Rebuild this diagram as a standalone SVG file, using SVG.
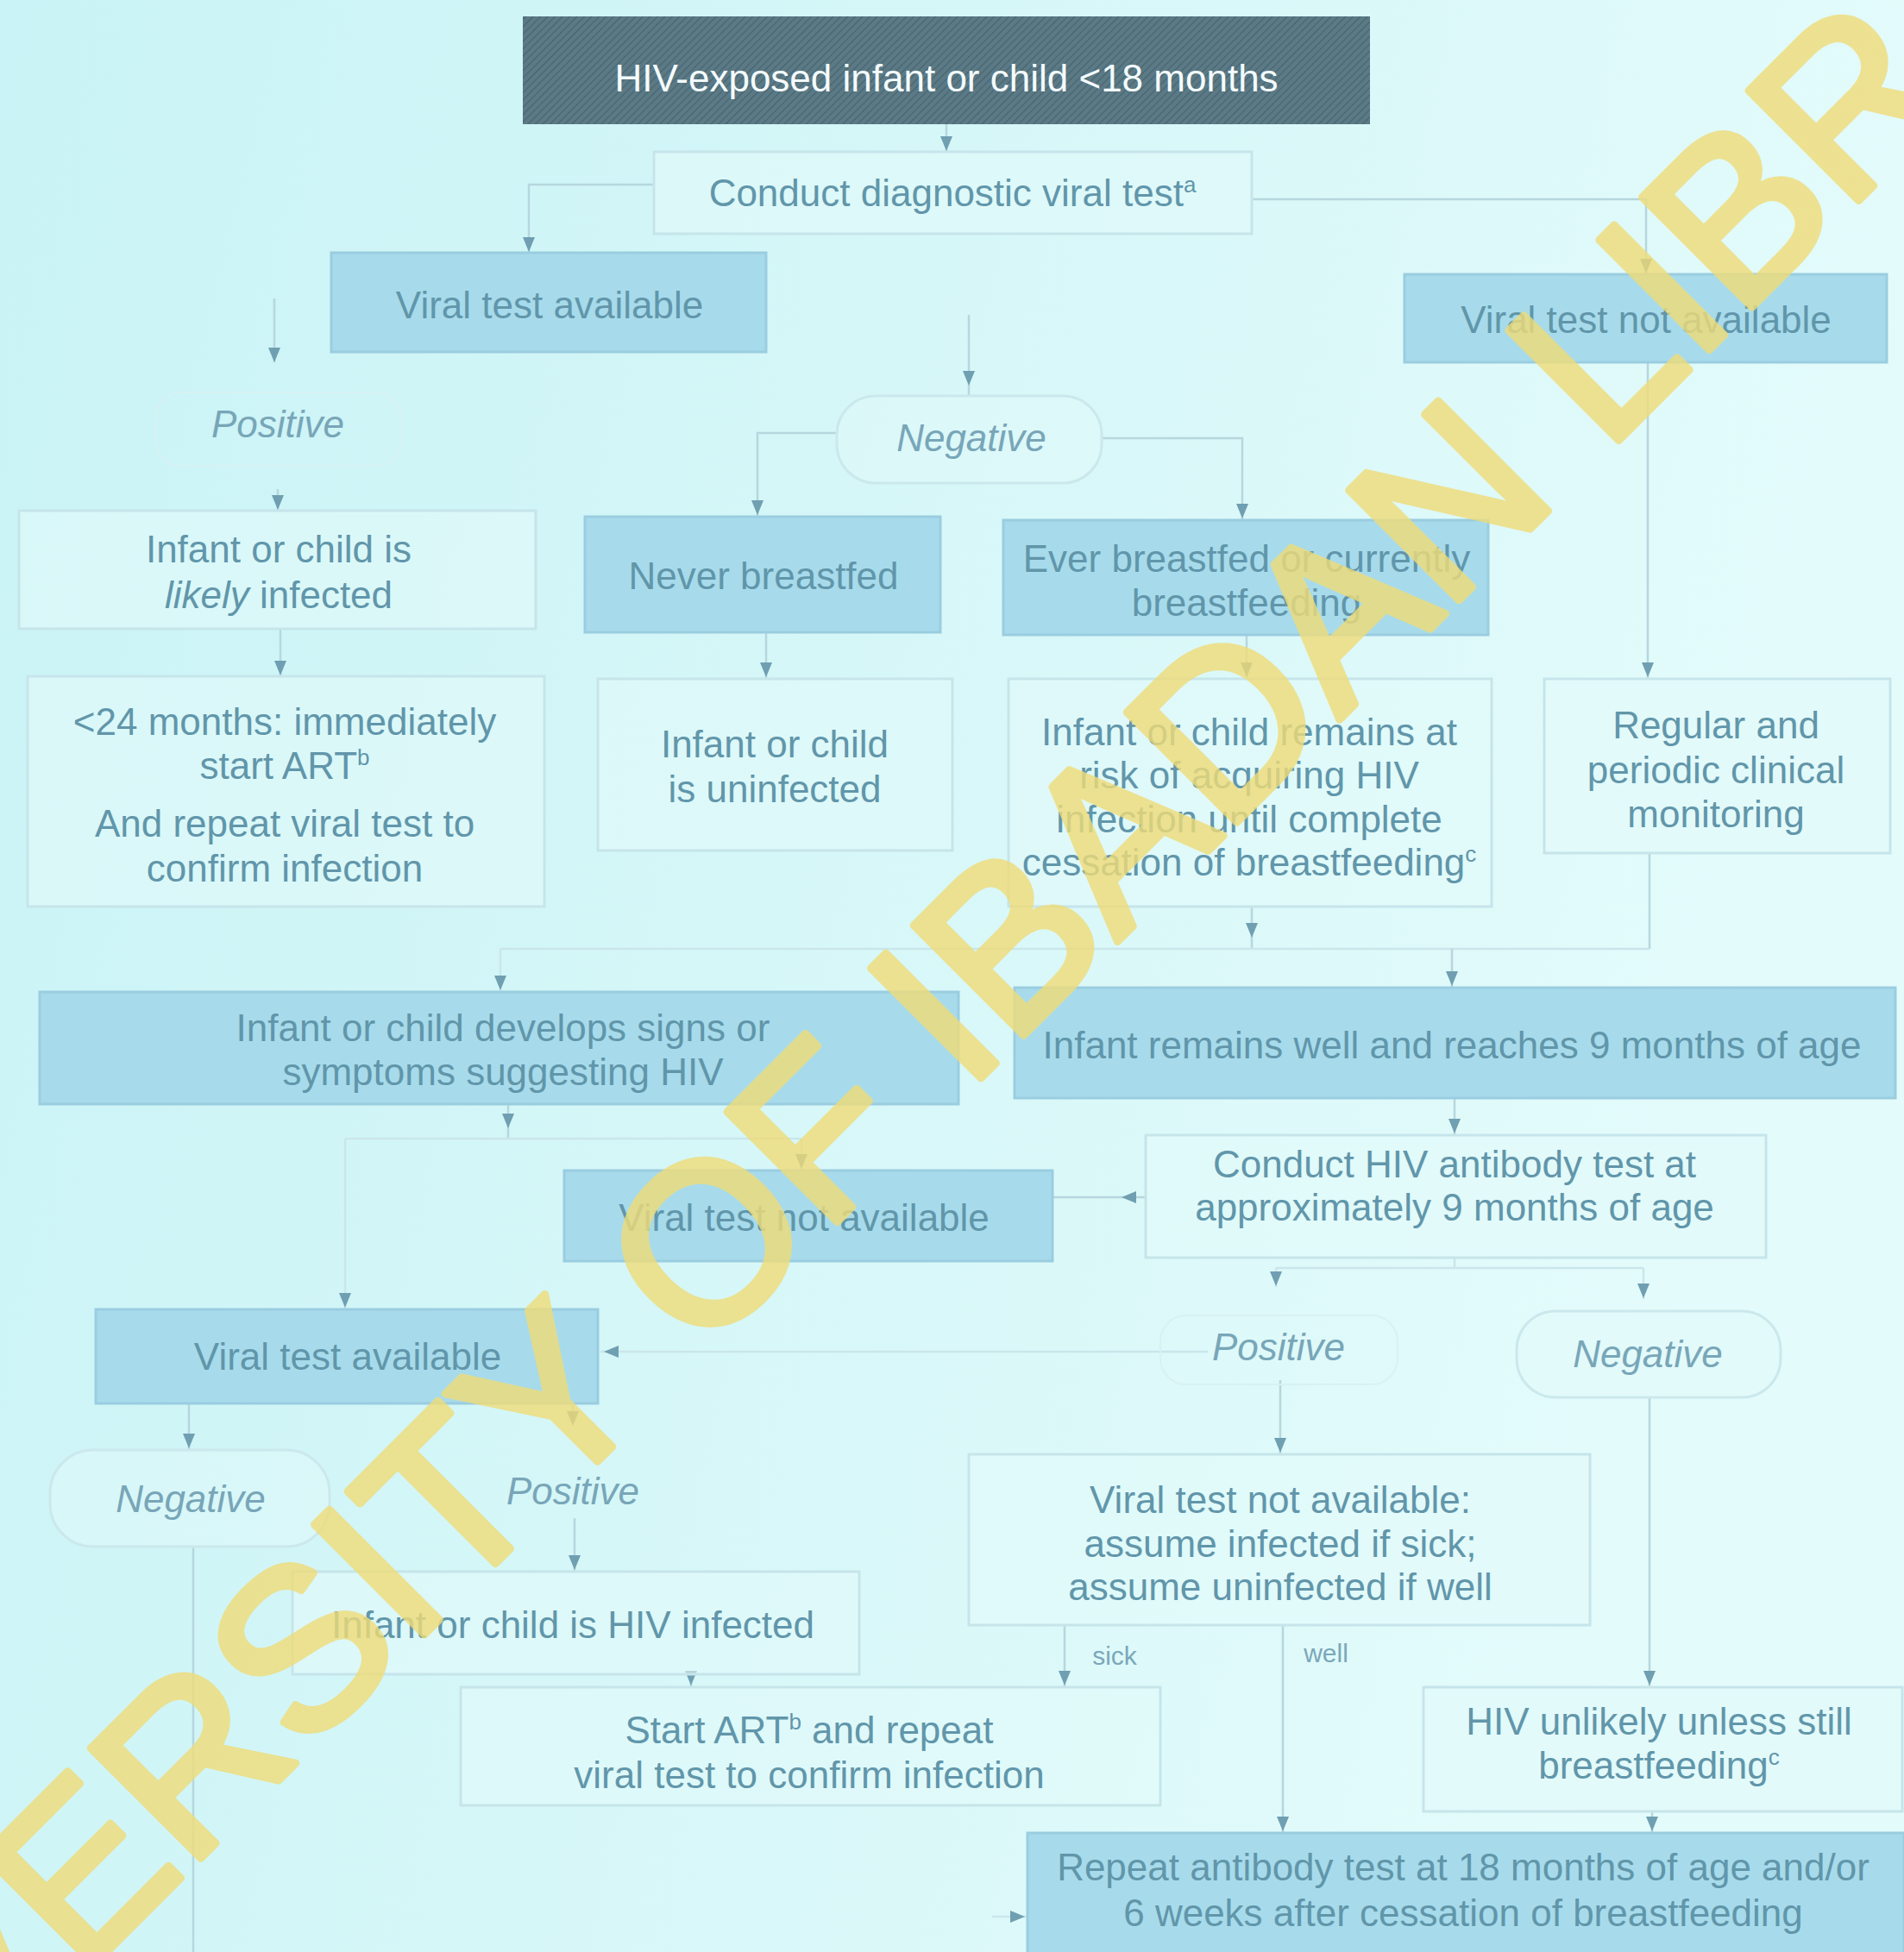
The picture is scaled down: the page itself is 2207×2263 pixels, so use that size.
<svg xmlns="http://www.w3.org/2000/svg" xmlns:xlink="http://www.w3.org/1999/xlink" width="2207" height="2263" viewBox="0 0 2207 2263">
<defs>
<linearGradient id="bg" x1="0" y1="0" x2="1" y2="0.25">
<stop offset="0" stop-color="#c9f3f6"/>
<stop offset="0.5" stop-color="#d6f7f8"/>
<stop offset="1" stop-color="#e4fbfb"/>
</linearGradient>
<pattern id="hatch" width="6" height="6" patternUnits="userSpaceOnUse" patternTransform="rotate(45)">
<rect width="6" height="6" fill="#5b7a86"/>
<line x1="0" y1="0" x2="0" y2="6" stroke="#44636f" stroke-width="2.2"/>
</pattern>
<path id="ah" d="M-7,-17 L7,-17 L0,0 Z" fill="#6f9fb1"/>
<style>
.t{font-family:"Liberation Sans",Arial,sans-serif;font-size:44px;text-anchor:middle;fill:#6196aa}
.w{fill:#f4fbfc}
.i{font-style:italic;fill:#78a6b8}
.s{font-size:30px;fill:#7aa8b9}
.blue{fill:#a7dbeb;stroke:#9acde0;stroke-width:3}
.plain{fill:#e2fafa;fill-opacity:.6;stroke:#c6e5ea;stroke-width:3}
.pill{fill:#e2fafa;fill-opacity:.5;stroke:#cbe8ec;stroke-width:3}
.faint{fill:none;stroke:#d8f1f3;stroke-width:2}
.c{fill:none;stroke:#b6d7de;stroke-width:2.5}
.cf{fill:none;stroke:#cae6eb;stroke-width:2.5}
.wm{font-family:"Liberation Sans",Arial,sans-serif;font-size:262px;fill:#f0dc78;stroke:#f0dc78;stroke-width:9;stroke-linejoin:round;opacity:.8;text-anchor:middle}
</style>
</defs>
<rect width="2207" height="2263" fill="url(#bg)"/>

<g id="connectors">
<path class="c" d="M1097,144 V176"/>
<path class="c" d="M758,214 H613 V293"/>
<path class="c" d="M1451,231 H1908 V318"/>
<path class="c" d="M318,346 V420"/>
<path class="c" d="M1123,365 V458"/>
<path class="c" d="M322,567 V592"/>
<path class="c" d="M970,502 H878 V598"/>
<path class="c" d="M1277,508 H1440 V602"/>
<path class="c" d="M325,729 V784"/>
<path class="c" d="M888,733 V786"/>
<path class="c" d="M1445,736 V786"/>
<path class="c" d="M1910,420 V786"/>
<path class="c" d="M1451,1051 V1100"/>
<path class="c" d="M1912,989 V1100"/>
<path class="cf" d="M580,1100 H1912"/>
<path class="cf" d="M580,1100 V1149"/>
<path class="c" d="M1683,1100 V1144"/>
<path class="c" d="M589,1280 V1320"/>
<path class="cf" d="M400,1320 H929"/>
<path class="cf" d="M929,1320 V1356"/>
<path class="cf" d="M400,1320 V1517"/>
<path class="c" d="M1686,1273 V1315"/>
<path class="c" d="M1328,1388 H1221"/>
<path class="cf" d="M1686,1458 V1470 M1479,1470 H1905 M1479,1470 V1492 M1905,1470 V1506"/>
<path class="cf" d="M1400,1567 H696"/>
<path class="c" d="M1484,1600 V1685"/>
<path class="c" d="M1912,1620 V1955"/>
<path class="c" d="M219,1627 V1680"/>
<path class="c" d="M664,1627 V1650"/>
<path class="c" d="M666,1760 V1821"/>
<path class="c" d="M801,1941 V1955"/>
<path class="c" d="M1234,1884 V1955"/>
<path class="c" d="M1487,1884 V2124"/>
<path class="c" d="M1915,2100 V2124"/>
<path class="c" d="M224,1793 V2263"/>
<path class="cf" d="M1150,2222 H1190"/>
<use href="#ah" x="1097" y="175"/>
<use href="#ah" x="613" y="292"/>
<use href="#ah" x="1908" y="317"/>
<use href="#ah" x="318" y="420"/>
<use href="#ah" x="1123" y="447"/>
<use href="#ah" x="322" y="591"/>
<use href="#ah" x="878" y="597"/>
<use href="#ah" x="1440" y="601"/>
<use href="#ah" x="325" y="783"/>
<use href="#ah" x="888" y="785"/>
<use href="#ah" x="1445" y="785"/>
<use href="#ah" x="1910" y="785"/>
<use href="#ah" x="1451" y="1087"/>
<use href="#ah" x="580" y="1148"/>
<use href="#ah" x="1683" y="1143"/>
<use href="#ah" x="589" y="1308"/>
<use href="#ah" x="929" y="1355"/>
<use href="#ah" x="400" y="1516"/>
<use href="#ah" x="1686" y="1314"/>
<use href="#ah" transform="translate(1300,1388) rotate(90)"/>
<use href="#ah" x="1479" y="1491"/>
<use href="#ah" x="1905" y="1505"/>
<use href="#ah" transform="translate(700,1567) rotate(90)"/>
<use href="#ah" x="1484" y="1684"/>
<use href="#ah" x="1912" y="1954"/>
<use href="#ah" x="219" y="1679"/>
<use href="#ah" x="664" y="1653"/>
<use href="#ah" x="666" y="1820"/>
<use href="#ah" x="801" y="1954"/>
<use href="#ah" x="1234" y="1954"/>
<use href="#ah" x="1487" y="2123"/>
<use href="#ah" x="1915" y="2123"/>
<use href="#ah" transform="translate(1188,2222) rotate(-90)"/>
</g>

<g id="n-start">
<rect x="606" y="19" width="982" height="125" fill="url(#hatch)"/>
<text class="t w" x="1097" y="106">HIV-exposed infant or child &lt;18 months</text>
</g>
<g id="n-conduct-viral">
<rect class="plain" x="758" y="176" width="693" height="95"/>
<text class="t" x="1104" y="239">Conduct diagnostic viral test<tspan font-size="26" dy="-16">a</tspan></text>
</g>
<g id="n-vta-top">
<rect class="blue" x="384" y="293" width="504" height="115"/>
<text class="t" x="637" y="369">Viral  test available</text>
</g>
<g id="n-vtna-top">
<rect class="blue" x="1628" y="318" width="559" height="102"/>
<text class="t" x="1908" y="386">Viral  test not available</text>
</g>
<g id="n-pos-top">
<rect class="faint" x="180" y="455" width="285" height="85" rx="30"/>
<text class="t i" x="322" y="507">Positive</text>
</g>
<g id="n-neg-top">
<rect class="pill" x="970" y="459" width="307" height="101" rx="45"/>
<text class="t i" x="1126" y="523">Negative</text>
</g>
<g id="n-likely">
<rect class="plain" x="22" y="592" width="599" height="137"/>
<text class="t" x="323" y="652">Infant or child is</text>
<text class="t" x="323" y="705"><tspan font-style="italic">likely</tspan> infected</text>
</g>
<g id="n-never">
<rect class="blue" x="678" y="599" width="412" height="134"/>
<text class="t" x="885" y="683">Never breastfed</text>
</g>
<g id="n-ever">
<rect class="blue" x="1163" y="603" width="562" height="133"/>
<text class="t" x="1445" y="663">Ever breastfed or currently</text>
<text class="t" x="1445" y="714">breastfeeding</text>
</g>
<g id="n-art24">
<rect class="plain" x="32" y="784" width="599" height="267"/>
<text class="t" x="330" y="852">&lt;24 months: immediately</text>
<text class="t" x="330" y="903">start ART<tspan font-size="26" dy="-16">b</tspan></text>
<text class="t" x="330" y="970">And repeat viral test to</text>
<text class="t" x="330" y="1022">confirm infection</text>
</g>
<g id="n-uninfected">
<rect class="plain" x="693" y="787" width="411" height="199"/>
<text class="t" x="898" y="878">Infant or child</text>
<text class="t" x="898" y="930">is uninfected</text>
</g>
<g id="n-risk">
<rect class="plain" x="1169" y="787" width="560" height="264"/>
<text class="t" x="1448" y="864">Infant or child remains at</text>
<text class="t" x="1448" y="914">risk of acquiring HIV</text>
<text class="t" x="1448" y="965">infection until complete</text>
<text class="t" x="1448" y="1015">cessation of breastfeeding<tspan font-size="26" dy="-16">c</tspan></text>
</g>
<g id="n-monitor">
<rect class="plain" x="1790" y="787" width="401" height="202"/>
<text class="t" x="1989" y="856">Regular and</text>
<text class="t" x="1989" y="908">periodic clinical</text>
<text class="t" x="1989" y="959">monitoring</text>
</g>
<g id="n-signs">
<rect class="blue" x="46" y="1150" width="1065" height="130"/>
<text class="t" x="583" y="1207">Infant or child develops signs or</text>
<text class="t" x="583" y="1258">symptoms suggesting HIV</text>
</g>
<g id="n-well9">
<rect class="blue" x="1176" y="1145" width="1021" height="128"/>
<text class="t" x="1683" y="1227">Infant remains well and reaches 9 months of age</text>
</g>
<g id="n-vtna-mid">
<rect class="blue" x="654" y="1357" width="566" height="105"/>
<text class="t" x="932" y="1427">Viral test not available</text>
</g>
<g id="n-antibody9">
<rect class="plain" x="1328" y="1316" width="719" height="142"/>
<text class="t" x="1686" y="1365">Conduct HIV  antibody test at</text>
<text class="t" x="1686" y="1415">approximately 9 months of age</text>
</g>
<g id="n-vta-low">
<rect class="blue" x="111" y="1518" width="582" height="109"/>
<text class="t" x="403" y="1588">Viral test available</text>
</g>
<g id="n-pos-mid">
<rect class="faint" x="1345" y="1525" width="275" height="80" rx="30"/>
<text class="t i" x="1482" y="1577">Positive</text>
</g>
<g id="n-neg-mid">
<rect class="pill" x="1758" y="1520" width="306" height="100" rx="45"/>
<text class="t i" x="1910" y="1585">Negative</text>
</g>
<g id="n-neg-low">
<rect class="pill" x="58" y="1681" width="324" height="112" rx="50"/>
<text class="t i" x="221" y="1753">Negative</text>
</g>
<g id="n-pos-low">
<text class="t i" x="664" y="1744">Positive</text>
</g>
<g id="n-infected">
<rect class="plain" x="339" y="1822" width="657" height="119"/>
<text class="t" x="664" y="1899">Infant or child is HIV infected</text>
</g>
<g id="n-assume">
<rect class="plain" x="1123" y="1686" width="720" height="198"/>
<text class="t" x="1484" y="1754">Viral test not available:</text>
<text class="t" x="1484" y="1805">assume  infected if sick;</text>
<text class="t" x="1484" y="1855">assume uninfected if well</text>
<text class="t s" x="1292" y="1930">sick</text>
<text class="t s" x="1537" y="1927">well</text>
</g>
<g id="n-startart">
<rect class="plain" x="534" y="1956" width="811" height="137"/>
<text class="t" x="938" y="2021">Start ART<tspan font-size="26" dy="-16">b</tspan><tspan dy="16"> and repeat</tspan></text>
<text class="t" x="938" y="2073">viral test to confirm infection</text>
</g>
<g id="n-unlikely">
<rect class="plain" x="1650" y="1956" width="555" height="144"/>
<text class="t" x="1923" y="2011">HIV unlikely unless still</text>
<text class="t" x="1923" y="2062">breastfeeding<tspan font-size="26" dy="-16">c</tspan></text>
</g>
<g id="n-repeat18">
<rect class="blue" x="1191" y="2125" width="1016" height="140"/>
<text class="t" x="1696" y="2180">Repeat antibody test at 18 months of age and/or</text>
<text class="t" x="1696" y="2233">6 weeks after cessation of breastfeeding</text>
</g>

<g id="watermark">
<text class="wm" x="1151" y="1236" transform="rotate(-45 1151 1236)">UNIVERSITY OF IBADAN LIBRARY</text>
</g>
</svg>
